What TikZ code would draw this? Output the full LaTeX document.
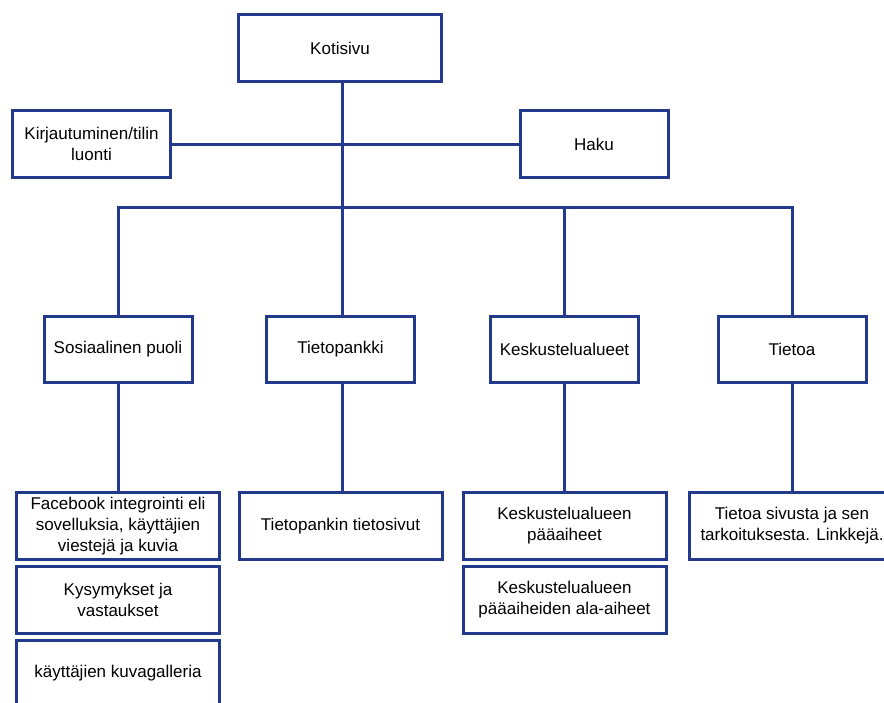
\documentclass[tikz,border=0pt]{standalone}
\usepackage{fontspec}
\setmainfont{Liberation Sans}
\usetikzlibrary{positioning}
\definecolor{navy}{RGB}{35,58,140}

\begin{document}
\begin{tikzpicture}[x=1pt, y=-1pt,
    box/.style={draw=navy, line width=3pt, fill=white, align=center,
        font=\fontsize{17}{21}\selectfont, inner sep=2pt},
    topbox/.style={box, minimum width=203pt, minimum height=67pt},
    midbox/.style={box, minimum width=148pt, minimum height=66pt},
    leafbox/.style={box, minimum width=203pt, minimum height=67pt},
    link/.style={draw=navy, line width=3pt}]
    \clip (0,0) rectangle (884,702);
    \useasboundingbox (0,0) rectangle (884,702);

    % 1. Top level
    \node[topbox] (koti) at (340,48) {Kotisivu};
    \node[midbox, minimum width=158pt, minimum height=67pt] (login) at (91.5,144) {Kirjautuminen/tilin\\luonti};
    \node[midbox, minimum height=67pt] (haku) at (594,144) {Haku};
    \coordinate (bus) at (342,207);

    % 2. Main sections
    \node[midbox] (sosiaali) at (118,349) {Sosiaalinen puoli};
    \node[midbox] (pankki) at (340.5,349) {Tietopankki};
    \node[midbox] (keskustelu) at (564.5,349) {Keskustelualueet};
    \node[midbox] (tietoa) at (792,349) {Tietoa};

    % 3. Sub pages
    \node[leafbox] (facebook) at (118,526) {Facebook integrointi eli\\sovelluksia, käyttäjien\\viestejä ja kuvia};
    \node[leafbox] (kysymys) at (118,599.5) {Kysymykset ja\\vastaukset};
    \node[leafbox] (galleria) at (118,673.5) {käyttäjien kuvagalleria};
    \node[leafbox] (tietosivut) at (340.5,526) {Tietopankin tietosivut};
    \node[leafbox] (aiheet) at (564.5,526) {Keskustelualueen\\pääaiheet};
    \node[leafbox] (ala) at (564.5,599.5) {Keskustelualueen\\pääaiheiden ala-aiheet};
    \node[leafbox, minimum width=205pt] (sivusta) at (792,526) {Tietoa sivusta ja sen\\tarkoituksesta. Linkkejä.};

    % 4. Connectors
    \draw[link] (koti.south -| bus) -- (bus);
    \draw[link] (login.east) -- (haku.west);
    \draw[link] (sosiaali.north) |- (bus);
    \draw[link] (pankki.north -| bus) -- (bus);
    \draw[link] (keskustelu.north) |- (bus);
    \draw[link] (tietoa.north) |- (bus);
    \draw[link] (sosiaali) -- (facebook);
    \draw[link] (pankki.south -| bus) -- (tietosivut.north -| bus);
    \draw[link] (keskustelu) -- (aiheet);
    \draw[link] (tietoa) -- (sivusta);
\end{tikzpicture}
\end{document}
